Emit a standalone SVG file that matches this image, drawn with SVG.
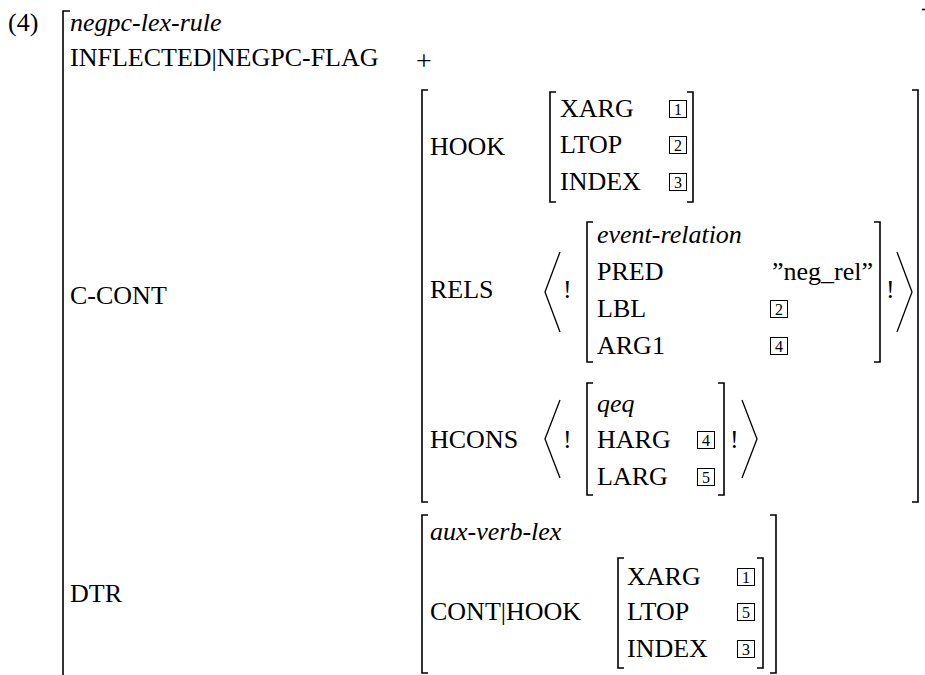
<svg xmlns="http://www.w3.org/2000/svg" width="925" height="675" viewBox="0 0 925 675" font-family="'Liberation Serif', 'Times New Roman', Times, 'DejaVu Serif', serif">
<style>
text{font-family:"Liberation Serif","Times New Roman",Times,"DejaVu Serif",serif;font-size:26px;fill:#000}
.it{font-style:italic}
.br{fill:none;stroke:#000;stroke-width:1.6}
.ang{fill:none;stroke:#000;stroke-width:1.3}
.bx{fill:none;stroke:#000;stroke-width:1}
.num{font-size:16px;text-anchor:middle}
</style>
<rect width="925" height="675" fill="#fff"/>
<g id="connectors"></g>
<g id="label-4"><text x="8" y="31">(4)</text></g>
<g id="main">
<path class="br" d="M70,11H63V680"/>
<path class="br" d="M922,9.5H926"/>
<text class="it" x="70" y="31">negpc-lex-rule</text>
<text x="70" y="66">INFLECTED|NEGPC-FLAG</text>
<text x="416" y="70" style="font-size:28px">+</text>
<text x="70" y="304">C-CONT</text>
<text x="70" y="602">DTR</text>
</g>
<g id="c-cont">
<path class="br" d="M428,90H422V502H428"/>
<path class="br" d="M912,90H918V502H912"/>
<text x="430" y="155">HOOK</text>
<text x="430" y="298">RELS</text>
<text x="430" y="448">HCONS</text>
</g>
<g id="hook">
<path class="br" d="M556,92H550V202H556"/>
<path class="br" d="M687,92H693V202H687"/>
<text x="560" y="117">XARG</text>
<text x="560" y="153">LTOP</text>
<text x="560" y="190">INDEX</text>
<rect class="bx" x="669.5" y="100.5" width="17" height="17"/><text class="num" x="678" y="115">1</text>
<rect class="bx" x="669.5" y="136.5" width="17" height="17"/><text class="num" x="678" y="151">2</text>
<rect class="bx" x="669.5" y="173.5" width="17" height="17"/><text class="num" x="678" y="188">3</text>
</g>
<g id="rels">
<polyline class="ang" points="560,252 545,292 560,332"/>
<text x="563" y="298">!</text>
<path class="br" d="M593,222H587V362H593"/>
<text class="it" x="597" y="243">event-relation</text>
<text x="597" y="280">PRED</text>
<text x="597" y="317">LBL</text>
<text x="597" y="354">ARG1</text>
<text x="772" y="280">”neg_rel”</text>
<rect class="bx" x="770.5" y="300.5" width="17" height="17"/><text class="num" x="779" y="315">2</text>
<rect class="bx" x="770.5" y="337.5" width="17" height="17"/><text class="num" x="779" y="352">4</text>
<path class="br" d="M874,222H880V362H874"/>
<text x="886" y="298">!</text>
<polyline class="ang" points="897,252 912,292 897,332"/>
</g>
<g id="hcons">
<polyline class="ang" points="560,400 545,439 560,478"/>
<text x="563" y="448">!</text>
<path class="br" d="M593,383H587V495H593"/>
<text class="it" x="597" y="412">qeq</text>
<text x="597" y="448">HARG</text>
<text x="597" y="485">LARG</text>
<rect class="bx" x="697.5" y="431.5" width="17" height="17"/><text class="num" x="706" y="446">4</text>
<rect class="bx" x="697.5" y="468.5" width="17" height="17"/><text class="num" x="706" y="483">5</text>
<path class="br" d="M718,383H724V495H718"/>
<text x="730" y="448">!</text>
<polyline class="ang" points="742,400 757,439 742,478"/>
</g>
<g id="dtr">
<path class="br" d="M428,515H422V673H428"/>
<path class="br" d="M770,515H776V673H770"/>
<text class="it" x="430" y="540">aux-verb-lex</text>
<text x="430" y="620">CONT|HOOK</text>
</g>
<g id="dtr-hook">
<path class="br" d="M624,558H618V668H624"/>
<path class="br" d="M757,558H763V668H757"/>
<text x="627" y="585">XARG</text>
<text x="627" y="620">LTOP</text>
<text x="627" y="657">INDEX</text>
<rect class="bx" x="737.5" y="568.5" width="17" height="17"/><text class="num" x="746" y="583">1</text>
<rect class="bx" x="737.5" y="603.5" width="17" height="17"/><text class="num" x="746" y="618">5</text>
<rect class="bx" x="737.5" y="640.5" width="17" height="17"/><text class="num" x="746" y="655">3</text>
</g>
</svg>
